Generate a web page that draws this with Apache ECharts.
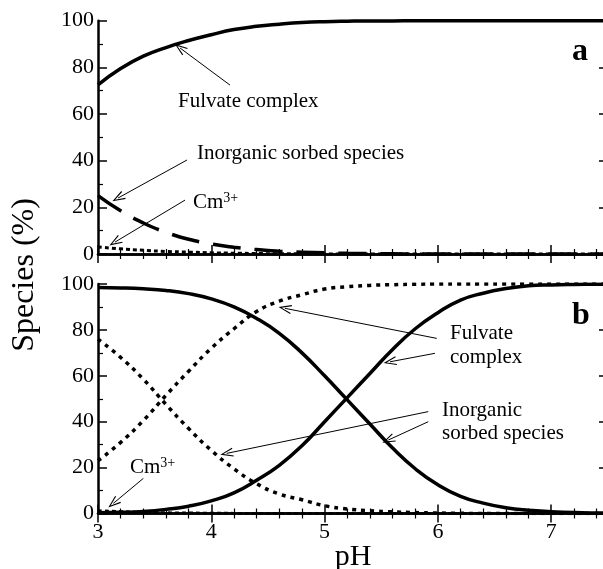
<!DOCTYPE html>
<html>
<head>
<meta charset="utf-8">
<script src="https://cdn.jsdelivr.net/npm/echarts@6/dist/echarts.min.js"></script>
<style>
  html, body { margin: 0; padding: 0; background: #fff; }
  #chart { width: 603px; height: 569px; }
</style>
</head>
<body>
<div id="chart"></div>
<script>
// pH 取值
var phValues = [3.0, 3.2, 3.4, 3.6, 3.8, 4.0, 4.2, 4.4, 4.6, 4.8, 5.0, 5.2,
  5.4, 5.6, 5.8, 6.0, 6.2, 6.4, 6.6, 6.8, 7.0, 7.2, 7.4, 7.6];

// panel a
var aFulvate = [72.5, 79.5, 84.8, 88.5, 91.5, 94.0, 96.2, 97.6, 98.5, 99.2, 99.6, 99.8,
  99.9, 99.9, 100, 100, 100, 100, 100, 100, 100, 100, 100, 100];
var aInorganic = [25.0, 18.5, 13.3, 9.3, 6.3, 4.3, 2.9, 1.9, 1.2, 0.8, 0.5, 0.3,
  0.2, 0.1, 0, 0, 0, 0, 0, 0, 0, 0, 0, 0];
var aCm = [3.0, 2.2, 1.6, 1.1, 0.8, 0.5, 0.35, 0.2, 0.1, 0.05, 0, 0,
  0, 0, 0, 0, 0, 0, 0, 0, 0, 0, 0, 0];

// panel b, 虚线 (dotted)
var bFulvateDot = [23.0, 31.0, 40.5, 51.5, 62.0, 72.0, 80.5, 88.0, 92.5, 95.3, 97.8, 98.8,
  99.4, 99.7, 99.9, 100, 100, 100, 100, 100, 100, 100, 100, 100];
var bInorganicDot = [76.0, 68.0, 58.5, 47.5, 37.0, 27.5, 19.5, 13.0, 8.5, 6.0, 3.4, 2.0,
  1.2, 0.7, 0.4, 0.2, 0.1, 0, 0, 0, 0, 0, 0, 0];
// panel b, 实线 (solid)
var bFulvateSolid = [0.3, 0.5, 0.9, 1.8, 3.2, 5.5, 9.0, 14.5, 21.0, 29.5, 40.0, 50.5,
  61.0, 71.5, 80.5, 87.5, 93.0, 96.0, 98.0, 99.2, 99.6, 99.8, 99.9, 100];
var bInorganicSolid = [98.5, 98.3, 97.9, 97.2, 95.8, 93.5, 90.0, 85.0, 78.5, 70.0, 60.0, 49.5,
  39.0, 28.5, 19.5, 12.5, 7.5, 4.5, 2.5, 1.4, 0.8, 0.4, 0.2, 0.1];
var bCm = [1.2, 0.8, 0.5, 0.3, 0.2, 0.1, 0.05, 0, 0, 0, 0, 0,
  0, 0, 0, 0, 0, 0, 0, 0, 0, 0, 0, 0];

var xTicks = [3, 4, 5, 6, 7];
var yTicks = [0, 20, 40, 60, 80, 100];

// 标注箭头 [起点, 终点] (数据坐标)
var arrowsA = [
  [[4.165, 72.4], [3.724, 88.3]],
  [[3.786, 40.3], [3.177, 24.0]],
  [[3.768, 23.1], [3.150, 5.1]]
];
var arrowsB = [
  [[5.99, 76.3], [4.65, 89.4]],
  [[5.974, 69.8], [5.577, 66.1]],
  [[5.915, 44.4], [4.136, 26.2]],
  [[5.915, 40.0], [5.562, 32.0]],
  [[3.40, 15.3], [3.135, 4.4]]
];

var FONT = 'Liberation Serif';

function pairs(ys) {
  return phValues.map(function (p, i) { return [p, ys[i]]; });
}

function arrowData(list) {
  return list.map(function (a) {
    return [{ coord: a[0] }, { coord: a[1] }];
  });
}

var axisLine = { show: true, lineStyle: { color: '#000', width: 2.5 } };
var majorTick = { show: true, inside: true, length: 9, lineStyle: { color: '#000', width: 1.5 } };

function xAx(grid, pos) {
  return {
    gridIndex: grid, type: 'value', position: pos,
    min: 3, max: 8, interval: 1,
    axisLine: axisLine, axisTick: majorTick,
    minorTick: { show: true, splitNumber: 5, length: 5, lineStyle: { color: '#000', width: 1.2 } },
    axisLabel: { show: false },
    splitLine: { show: false }, minorSplitLine: { show: false }
  };
}

function yAx(grid, pos, offset) {
  return {
    gridIndex: grid, type: 'value', position: pos, offset: offset || 0,
    min: 0, max: 100, interval: 20,
    axisLine: axisLine, axisTick: majorTick,
    minorTick: { show: true, splitNumber: 2, length: 5, lineStyle: { color: '#000', width: 1.2 } },
    axisLabel: { show: false },
    splitLine: { show: false }, minorSplitLine: { show: false }
  };
}

function line(name, xi, yi, ys, width, dash, extra) {
  var s = {
    name: name, type: 'line', xAxisIndex: xi, yAxisIndex: yi,
    data: pairs(ys), showSymbol: false, symbol: 'none',
    smooth: 0.5,
    lineStyle: { color: '#000', width: width, type: dash || 'solid' },
    animation: false
  };
  if (extra) {
    for (var k in extra) s[k] = extra[k];
  }
  return s;
}

// 空心 V 形箭头
var vArrow = 'path://M5,0 L10,13 L8.8,13.4 L5,3.2 L1.2,13.4 L0,13 Z';

function markArrows(list) {
  return {
    silent: true, animation: false,
    symbol: ['none', vArrow], symbolSize: [9, 13],
    symbolKeepAspect: false,
    label: { show: false },
    itemStyle: { color: '#000' },
    lineStyle: { color: '#000', width: 1, type: 'solid' },
    emphasis: { disabled: true },
    data: arrowData(list)
  };
}

function txt(x, y, text, size, opts) {
  var style = {
    x: x, y: y, text: text, fill: '#000',
    font: (opts && opts.bold ? 'bold ' : '') + size + 'px "' + FONT + '"',
    align: (opts && opts.align) || 'left', verticalAlign: (opts && opts.valign) || 'middle'
  };
  if (opts && opts.rich) style.rich = opts.rich;
  return { type: 'text', style: style, silent: true };
}

var cmRich = {
  n: { fontSize: 21, fontFamily: FONT, fill: '#000', lineHeight: 22 },
  s: { fontSize: 14, fontFamily: FONT, fill: '#000', verticalAlign: 'top', lineHeight: 22 }
};

var chart = echarts.init(document.getElementById('chart'), null, { renderer: 'canvas' });

var graphics = [
  {
    type: 'text', silent: true, x: 25, y: 275, rotation: Math.PI / 2,
    style: { x: 0, y: 0, text: 'Species (%)', fill: '#000', font: '32px "' + FONT + '"', align: 'center', verticalAlign: 'middle' }
  },
  txt(353, 557, 'pH', 30, { align: 'center' }),
  txt(580, 52, 'a', 32, { bold: true, align: 'center' }),
  txt(581, 316, 'b', 32, { bold: true, align: 'center' }),
  txt(178, 101, 'Fulvate complex', 21),
  txt(197, 153, 'Inorganic sorbed species', 21),
  txt(193, 202, '{n|Cm}{s|3+}', 21, { rich: cmRich }),
  txt(450, 333, 'Fulvate', 21),
  txt(450, 357, 'complex', 21),
  txt(442, 410, 'Inorganic', 21),
  txt(442, 433, 'sorbed species', 21),
  txt(130, 467, '{n|Cm}{s|3+}', 21, { rich: cmRich })
];

var option = {
  backgroundColor: '#fff',
  animation: false,
  grid: [
    { left: 98, top: 20.7, width: 566.5, height: 233.3, outerBoundsMode: 'none' },
    { left: 98, top: 284, width: 566.5, height: 229.5, outerBoundsMode: 'none' }
  ],
  xAxis: [xAx(0, 'bottom'), xAx(0, 'top'), xAx(1, 'bottom'), xAx(1, 'top')],
  yAxis: [yAx(0, 'left'), yAx(0, 'right', -56.5), yAx(1, 'left'), yAx(1, 'right', -56.5)],
  series: [
    line('Fulvate complex', 0, 0, aFulvate, 3.5, 'solid', { markLine: markArrows(arrowsA) }),
    line('Inorganic sorbed species', 0, 0, aInorganic, 3.5, [28, 14]),
    line('Cm3+', 0, 0, aCm, 3, [4, 3]),
    line('Fulvate complex (solid)', 2, 2, bFulvateSolid, 3.5, 'solid', { markLine: markArrows(arrowsB) }),
    line('Inorganic sorbed species (solid)', 2, 2, bInorganicSolid, 3.5, 'solid'),
    line('Fulvate complex (dotted)', 2, 2, bFulvateDot, 3.5, [4, 5]),
    line('Inorganic sorbed species (dotted)', 2, 2, bInorganicDot, 3.5, [4, 5]),
    line('Cm3+ (b)', 2, 2, bCm, 3, [4, 3])
  ],
  graphic: graphics
};

chart.setOption(option);

// 刻度标签 (serif), 位置由坐标轴换算
var tickLabels = [];
[0, 2].forEach(function (yi) {
  yTicks.forEach(function (v) {
    var py = chart.convertToPixel({ yAxisIndex: yi }, v);
    var px = chart.convertToPixel({ xAxisIndex: yi }, 3);
    tickLabels.push(txt(px - 4, py, String(v), 22, { align: 'right' }));
  });
});
xTicks.forEach(function (v) {
  var px = chart.convertToPixel({ xAxisIndex: 2 }, v);
  var py = chart.convertToPixel({ yAxisIndex: 2 }, 0);
  tickLabels.push(txt(px, py + 8, String(v), 22, { align: 'center', valign: 'top' }));
});

chart.setOption({ graphic: graphics.concat(tickLabels) });
</script>
</body>
</html>
